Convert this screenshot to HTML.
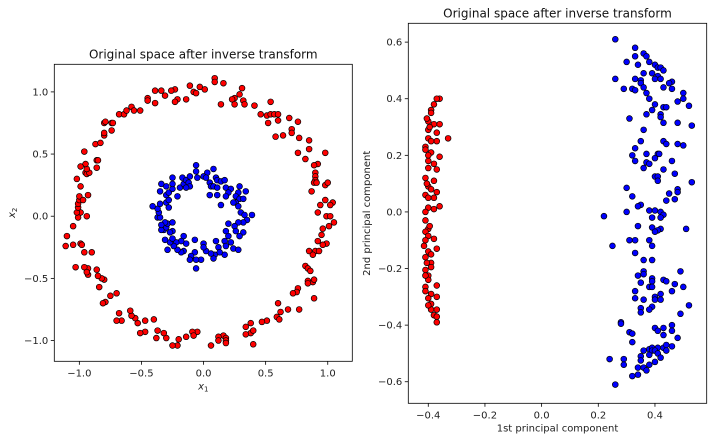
<!DOCTYPE html>
<html><head><meta charset="utf-8"><style>
body{margin:0;background:#fff;}
svg{display:block;font-family:"DejaVu Sans","Liberation Sans",sans-serif;}
</style></head><body>
<svg id="chart" width="712" height="441" viewBox="0 0 712 441"></svg>
<script>
const leftTicksX=[-1.0,-0.5,0.0,0.5,1.0];
const leftTicksY=[-1.0,-0.5,0.0,0.5,1.0];
const rightTicksX=[-0.4,-0.2,0.0,0.2,0.4];
const rightTicksY=[-0.6,-0.4,-0.2,0.0,0.2,0.4,0.6];
const leftRed=[[0.09,1.11],[0.09,1.08],[0.16,1.07],[-0.11,1.05],[-0.03,1.04],[0.01,1.02],[-0.08,1.0],[-0.06,0.99],[-0.39,1.01],[-0.34,1.01],[-0.23,1.02],[-0.26,1.01],[-0.31,0.97],[-0.21,0.94],[-0.23,0.92],[-0.14,0.94],[-0.45,0.95],[-0.39,0.91],[-0.45,0.93],[0.31,1.03],[0.29,0.98],[0.25,0.95],[0.23,0.94],[0.32,0.93],[0.33,0.9],[0.25,0.9],[0.14,0.9],[0.41,0.89],[0.54,0.92],[0.46,0.82],[0.51,0.81],[0.54,0.82],[0.57,0.82],[0.6,0.82],[0.52,0.75],[0.6,0.77],[0.69,0.79],[0.76,0.76],[0.71,0.7],[0.71,0.67],[0.64,0.65],[0.58,0.64],[0.77,0.63],[0.85,0.61],[0.85,0.54],[0.76,0.51],[0.98,0.51],[0.82,0.46],[0.92,0.42],[0.89,0.41],[0.9,0.35],[0.9,0.32],[0.9,0.29],[0.89,0.27],[0.91,0.27],[0.98,0.25],[1.0,0.27],[0.87,0.2],[0.98,0.13],[1.04,0.11],[1.02,0.09],[0.94,0.09],[0.92,0.03],[0.99,0.0],[1.02,0.0],[1.05,-0.05],[1.01,-0.08],[0.96,-0.1],[0.95,-0.15],[0.92,-0.2],[0.99,-0.22],[0.96,-0.23],[0.9,-0.28],[0.93,-0.28],[0.85,-0.28],[0.88,-0.31],[0.82,-0.4],[0.84,-0.42],[0.86,-0.44],[0.84,-0.52],[0.88,-0.53],[0.89,-0.51],[0.84,-0.54],[0.76,-0.58],[0.75,-0.61],[0.72,-0.62],[0.89,-0.66],[0.6,-0.7],[0.68,-0.75],[0.77,-0.75],[0.62,-0.77],[0.59,-0.81],[0.61,-0.83],[0.51,-0.84],[0.47,-0.85],[0.38,-0.86],[0.34,-0.89],[0.38,-0.94],[0.4,-0.92],[0.34,-0.95],[0.4,-1.03],[0.16,-0.96],[0.18,-0.98],[0.18,-1.0],[0.18,-1.02],[0.12,-0.97],[0.12,-1.0],[0.06,-1.04],[-0.05,-0.93],[-0.09,-0.93],[-0.08,-0.96],[-0.14,-0.97],[-0.2,-0.99],[-0.21,-1.04],[-0.25,-1.04],[-0.3,-0.98],[-0.32,-0.94],[-0.37,-0.92],[-0.38,-0.98],[-0.4,-0.83],[-0.47,-0.84],[-0.47,-0.93],[-0.51,-0.94],[-0.53,-0.86],[-0.55,-0.82],[-0.58,-0.8],[-0.59,-0.76],[-0.66,-0.84],[-0.7,-0.84],[-0.68,-0.78],[-0.7,-0.62],[-0.75,-0.64],[-0.79,-0.69],[-0.81,-0.7],[-0.84,-0.57],[-0.8,-0.51],[-0.82,-0.5],[-0.85,-0.48],[-0.86,-0.43],[-0.93,-0.47],[-0.93,-0.42],[-0.96,-0.41],[-0.94,-0.45],[-1.03,-0.41],[-0.9,-0.29],[-0.96,-0.29],[-0.99,-0.22],[-0.98,-0.23],[-1.05,-0.23],[-1.11,-0.24],[-1.1,-0.16],[-1.05,-0.08],[-0.94,0.0],[-0.99,0.03],[-1.01,-0.01],[-1.02,0.03],[-1.01,0.07],[-1.01,0.1],[-1.0,0.13],[-1.0,0.16],[-0.97,0.13],[-0.93,0.17],[-0.99,0.24],[-1.02,0.3],[-0.95,0.35],[-0.94,0.34],[-0.92,0.35],[-0.94,0.38],[-0.95,0.42],[-0.99,0.4],[-0.96,0.52],[-0.86,0.39],[-0.86,0.45],[-0.85,0.45],[-0.87,0.58],[-0.83,0.59],[-0.8,0.65],[-0.8,0.67],[-0.8,0.75],[-0.79,0.76],[-0.74,0.75],[-0.73,0.75],[-0.74,0.69],[-0.68,0.82],[-0.64,0.82],[-0.62,0.85],[-0.58,0.88],[-0.56,0.85],[-0.51,0.85]];
const leftBlue=[[-0.06,0.41],[-0.06,0.36],[0.08,0.38],[0.03,0.35],[-0.05,0.31],[0,0.32],[0.02,0.31],[0.05,0.27],[0.06,0.24],[0.1,0.31],[0.11,0.29],[0.14,0.28],[0.17,0.29],[0.08,0.24],[0.11,0.23],[0.11,0.17],[0.05,0.17],[0.18,0.23],[0.22,0.22],[0.29,0.24],[0.28,0.19],[0.34,0.2],[0.2,0.19],[0.18,0.16],[0.26,0.16],[0.29,0.14],[0.26,0.11],[0.24,0.11],[0.32,0.14],[0.14,0.09],[0.28,0.08],[0.3,0.03],[0.33,0.01],[0.39,0.01],[0.35,-0.03],[0.32,-0.05],[0.28,-0.05],[0.2,-0.06],[0.25,-0.08],[0.18,-0.12],[0.26,-0.12],[0.32,-0.13],[0.29,-0.16],[0.2,-0.16],[0.22,-0.21],[0.17,-0.2],[0.1,-0.2],[0.18,-0.24],[0.12,-0.25],[0.24,-0.26],[0.28,-0.27],[0.17,-0.31],[0.13,-0.29],[0.09,-0.31],[0.08,-0.34],[0.06,-0.3],[0.02,-0.28],[0,-0.22],[0,-0.25],[-0.02,-0.35],[-0.06,-0.42],[-0.07,-0.19],[-0.07,-0.29],[-0.06,-0.35],[-0.1,-0.32],[-0.11,-0.35],[-0.16,-0.28],[-0.18,-0.29],[-0.21,-0.27],[-0.14,-0.22],[-0.16,-0.16],[-0.18,-0.2],[-0.22,-0.21],[-0.24,-0.24],[-0.27,-0.21],[-0.29,-0.27],[-0.25,-0.18],[-0.31,-0.19],[-0.25,-0.12],[-0.27,-0.13],[-0.32,-0.11],[-0.34,-0.11],[-0.3,-0.09],[-0.29,-0.06],[-0.25,-0.05],[-0.31,-0.05],[-0.34,-0.07],[-0.37,-0.01],[-0.35,-0.01],[-0.36,0.03],[-0.37,0.06],[-0.41,0.08],[-0.35,0.1],[-0.3,0.11],[-0.28,0.07],[-0.28,0.13],[-0.3,0.17],[-0.35,0.2],[-0.28,0.19],[-0.25,0.22],[-0.34,0.26],[-0.3,0.24],[-0.25,0.31],[-0.25,0.26],[-0.21,0.16],[-0.19,0.23],[-0.17,0.31],[-0.16,0.26],[-0.14,0.29],[-0.12,0.27],[-0.11,0.32],[-0.11,0.24],[-0.14,0.23]];
const rightRed=[[-0.36,0.4],[-0.37,0.4],[-0.39,0.36],[-0.38,0.38],[-0.39,0.35],[-0.4,0.32],[-0.36,0.31],[-0.38,0.31],[-0.4,0.29],[-0.37,0.28],[-0.33,0.26],[-0.4,0.26],[-0.37,0.25],[-0.41,0.23],[-0.39,0.25],[-0.39,0.21],[-0.36,0.195],[-0.4,0.18],[-0.38,0.17],[-0.37,0.15],[-0.4,0.155],[-0.41,0.12],[-0.38,0.11],[-0.4,0.09],[-0.39,0.08],[-0.37,0.07],[-0.41,0.06],[-0.38,0.05],[-0.36,0.02],[-0.4,0.015],[-0.38,0.01],[-0.41,-0.03],[-0.4,-0.06],[-0.41,-0.07],[-0.4,-0.085],[-0.38,-0.095],[-0.415,-0.12],[-0.37,-0.13],[-0.4,-0.14],[-0.39,-0.15],[-0.41,-0.16],[-0.39,-0.18],[-0.39,-0.195],[-0.41,-0.205],[-0.4,-0.225],[-0.4,-0.24],[-0.37,-0.26],[-0.41,-0.265],[-0.39,-0.29],[-0.37,-0.3],[-0.4,-0.305],[-0.39,-0.325],[-0.39,-0.345],[-0.37,-0.345],[-0.38,-0.365],[-0.37,-0.37],[-0.37,-0.39],[-0.41,-0.225],[-0.41,0.0],[-0.4,0.05],[-0.405,0.33],[-0.395,0.3],[-0.41,0.22],[-0.4,0.2],[-0.405,0.1],[-0.41,-0.1],[-0.405,-0.18],[-0.41,-0.28],[-0.4,-0.33],[-0.395,-0.05]];
const rightBlue=[[0.26,0.61],[0.33,0.58],[0.33,0.55],[0.36,0.56],[0.37,0.55],[0.3,0.53],[0.34,0.52],[0.38,0.53],[0.4,0.52],[0.41,0.51],[0.42,0.51],[0.43,0.5],[0.39,0.49],[0.41,0.48],[0.36,0.49],[0.26,0.47],[0.33,0.47],[0.35,0.465],[0.4,0.47],[0.42,0.47],[0.46,0.46],[0.45,0.455],[0.35,0.455],[0.29,0.435],[0.32,0.435],[0.33,0.43],[0.36,0.44],[0.43,0.44],[0.46,0.435],[0.5,0.42],[0.5,0.4],[0.37,0.42],[0.38,0.4],[0.48,0.39],[0.4,0.38],[0.43,0.37],[0.44,0.37],[0.52,0.375],[0.39,0.36],[0.42,0.345],[0.37,0.345],[0.31,0.33],[0.42,0.335],[0.43,0.315],[0.48,0.315],[0.53,0.305],[0.36,0.29],[0.35,0.25],[0.43,0.25],[0.44,0.24],[0.48,0.24],[0.5,0.235],[0.33,0.225],[0.37,0.205],[0.41,0.205],[0.415,0.205],[0.32,0.2],[0.4,0.19],[0.33,0.18],[0.37,0.175],[0.38,0.17],[0.46,0.18],[0.36,0.155],[0.43,0.15],[0.47,0.135],[0.4,0.125],[0.41,0.125],[0.41,0.11],[0.53,0.105],[0.3,0.085],[0.32,0.055],[0.48,0.08],[0.48,0.07],[0.45,0.065],[0.47,0.045],[0.44,0.04],[0.35,0.025],[0.34,0.02],[0.38,0.005],[0.4,0.005],[0.3,0.0],[0.42,0.0],[0.43,-0.01],[0.42,-0.02],[0.39,-0.02],[0.22,-0.015],[0.34,-0.05],[0.39,-0.055],[0.42,-0.06],[0.41,-0.065],[0.4,-0.07],[0.51,-0.06],[0.31,-0.1],[0.33,-0.1],[0.38,-0.1],[0.39,-0.12],[0.25,-0.12],[0.33,-0.145],[0.36,-0.17],[0.39,-0.17],[0.49,-0.21],[0.36,-0.21],[0.36,-0.22],[0.34,-0.225],[0.39,-0.235],[0.39,-0.245],[0.43,-0.24],[0.44,-0.245],[0.47,-0.255],[0.35,-0.25],[0.38,-0.265],[0.39,-0.265],[0.5,-0.265],[0.46,-0.28],[0.33,-0.28],[0.42,-0.29],[0.4,-0.3],[0.33,-0.305],[0.36,-0.31],[0.4,-0.31],[0.42,-0.31],[0.52,-0.33],[0.39,-0.335],[0.35,-0.34],[0.38,-0.345],[0.35,-0.355],[0.49,-0.36],[0.28,-0.39],[0.28,-0.395],[0.46,-0.4],[0.46,-0.42],[0.4,-0.41],[0.43,-0.41],[0.41,-0.42],[0.31,-0.425],[0.32,-0.43],[0.43,-0.435],[0.48,-0.445],[0.32,-0.46],[0.46,-0.475],[0.43,-0.48],[0.44,-0.47],[0.44,-0.49],[0.38,-0.485],[0.39,-0.48],[0.41,-0.48],[0.36,-0.49],[0.39,-0.49],[0.4,-0.49],[0.38,-0.505],[0.41,-0.5],[0.35,-0.51],[0.42,-0.515],[0.24,-0.52],[0.29,-0.52],[0.4,-0.53],[0.35,-0.525],[0.29,-0.54],[0.38,-0.54],[0.34,-0.55],[0.36,-0.55],[0.37,-0.56],[0.34,-0.575],[0.32,-0.58],[0.26,-0.61]];

const NS='http://www.w3.org/2000/svg';
const svg=document.getElementById('chart');
function mk(tag,attrs,parent){const e=document.createElementNS(NS,tag);for(const k in attrs)e.setAttribute(k,attrs[k]);(parent||svg).appendChild(e);return e;}

function panel(cfg){
  const g=mk('g',{});
  
  
  const sx=v=>cfg.x0+(v-cfg.xmin)/(cfg.xmax-cfg.xmin)*(cfg.x1-cfg.x0);
  const sy=v=>cfg.y1-(v-cfg.ymin)/(cfg.ymax-cfg.ymin)*(cfg.y1-cfg.y0);
  cfg.series.forEach(s=>{
    const sg=mk('g',{},g);
    
    
    s.data.forEach(p=>{
      const c=mk('circle',{cx:sx(p[0]),cy:sy(p[1]),r:2.9,fill:s.color,stroke:'#000','stroke-width':0.7},sg);
      
      
    });
  });
  const fr=mk('rect',{x:cfg.x0,y:cfg.y0,width:cfg.x1-cfg.x0,height:cfg.y1-cfg.y0,fill:'none',stroke:'#000','stroke-width':0.8},g);
  
  
  cfg.xt.forEach(v=>{
    const x=sx(v);
    mk('line',{x1:x,x2:x,y1:cfg.y1,y2:cfg.y1+3.5,stroke:'#000','stroke-width':0.8},g);
    const t=mk('text',{x:x,y:cfg.y1+15,'text-anchor':'middle','font-size':10,fill:'#222'},g);
    t.textContent=(v<0?'\u2212':'')+Math.abs(v).toFixed(1);
    
    
  });
  cfg.yt.forEach(v=>{
    const y=sy(v);
    mk('line',{x1:cfg.x0-3.5,x2:cfg.x0,y1:y,y2:y,stroke:'#000','stroke-width':0.8},g);
    const t=mk('text',{x:cfg.x0-6,y:y+3.5,'text-anchor':'end','font-size':10,fill:'#222'},g);
    t.textContent=(v<0?'\u2212':'')+Math.abs(v).toFixed(1);
    
    
  });
  const ti=mk('text',{x:(cfg.x0+cfg.x1)/2,y:cfg.y0-6,'text-anchor':'middle','font-size':12,fill:'#111'},g);
  ti.textContent=cfg.title;
  
  
  const xl=mk('text',{x:(cfg.x0+cfg.x1)/2,y:cfg.y1+28,'text-anchor':'middle','font-size':10,fill:'#222'},g);
  xl.innerHTML=cfg.xlabel;
  
  
  const yx=cfg.ylabelX, yy=(cfg.y0+cfg.y1)/2;
  const yl=mk('text',{x:yx,y:yy,'text-anchor':'middle','font-size':10,fill:'#222',transform:`rotate(-90 ${yx} ${yy})`},g);
  yl.innerHTML=cfg.ylabel;
  
  
}

panel({name:'left-panel',x0:54.3,x1:352.3,y0:64.3,y1:361.3,
  xmin:-1.2016,xmax:1.1977,ymin:-1.167,ymax:1.222,
  xt:leftTicksX,yt:leftTicksY,title:'Original space after inverse transform',
  xlabel:'<tspan font-style="italic">x</tspan><tspan font-size="7" dy="2">1</tspan>',
  ylabel:'<tspan font-style="italic">x</tspan><tspan font-size="7" dy="2">2</tspan>',ylabelX:15,
  series:[{name:'outer-ring-red',color:'#ff0000',data:leftRed},{name:'inner-ring-blue',color:'#0000ff',data:leftBlue}]});
panel({name:'right-panel',x0:408.3,x1:706.7,y0:23.3,y1:403.3,
  xmin:-0.4705,xmax:0.5826,ymin:-0.6762,ymax:0.6665,
  xt:rightTicksX,yt:rightTicksY,title:'Original space after inverse transform',
  xlabel:'1st principal component',ylabel:'2nd principal component',ylabelX:370,
  series:[{name:'red-class',color:'#ff0000',data:rightRed},{name:'blue-class',color:'#0000ff',data:rightBlue}]});
</script>
</body></html>
